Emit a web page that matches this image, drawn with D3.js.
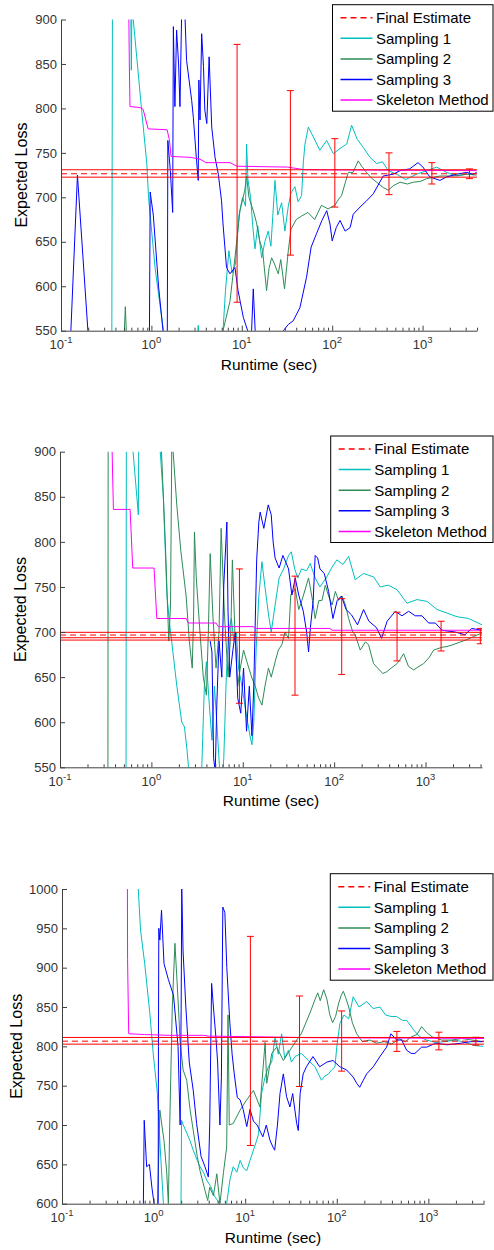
<!DOCTYPE html>
<html><head><meta charset="utf-8">
<script src="https://cdn.jsdelivr.net/npm/d3@7"></script>
<style>body{margin:0;background:#fff}svg{display:block}</style>
</head><body>
<svg id="c" width="494" height="1250"></svg>
<script>
// ---------------- DATA ----------------
const legendLabels = ["Final Estimate","Sampling 1","Sampling 2","Sampling 3","Skeleton Method"];
const xTickExponents = [-1,0,1,2,3];
const p1YTicks = [550,600,650,700,750,800,850,900];
const p2YTicks = [550,600,650,700,750,800,850,900];
const p3YTicks = [600,650,700,750,800,850,900,950,1000];

// Panel 1  [runtime (sec), expected loss]
const p1Skeleton = [[0.55,1000],[0.57,850],[0.58,802],[0.75,801],[0.81,799],[0.92,777],[1.49,776],[1.58,765],[1.65,746],[2.67,745],[3.45,743],[4.0,739],[7.4,739],[8.85,735],[32,734],[50,731],[3960,730]];
const p1Sampling1 = [[0.30,450],[0.365,540],[0.372,1000],[0.58,1000],[0.60,843],[0.62,1000],[0.63,900],[0.78,798],[0.89,738],[0.93,700],[1.1,620],[1.36,550],[1.5,480],[3.1,480],[3.2,540],[3.3,556],[3.4,540],[3.6,480],[5.8,480],[6.2,550],[6.6,595],[7.2,640],[7.8,615],[8.5,625],[9.3,680],[10.2,700],[11.0,690],[11.3,760],[11.7,720],[12.5,700],[13.3,665],[14.0,642],[15.0,668],[16.6,632],[18.0,650],[19.6,662],[21.0,645],[23.3,719],[25.0,680],[27.6,694],[30.0,662],[32.7,690],[35.0,705],[38.7,712],[42.0,695],[45.9,702],[48.0,740],[50.0,760],[54.5,779],[61.8,768],[73,753],[87,764],[103,749],[122,755],[145,760],[164,781],[190,765],[221,756],[262,745],[310,738],[360,740],[418,730],[517,726],[650,720],[860,726],[1110,730],[1432,734],[1848,728],[2384,724],[3077,726],[3960,727]];
const p1Sampling2 = [[0.45,480],[0.50,545],[0.515,577],[0.53,545],[0.6,480],[5.8,480],[6.2,550],[7.4,583],[8.4,632],[9.55,685],[10.8,708],[11.3,724],[12.0,700],[13.4,685],[14.5,672],[15.8,651],[17.0,640],[18.8,595],[20.0,620],[21.4,632],[23.0,625],[25.3,614],[27.0,630],[29.7,597],[32.7,640],[35,664],[40,675],[46,679],[54,683],[64,675],[76,691],[90,687],[107,691],[118,698],[127,702],[140,717],[151,728],[170,728],[194,741],[212,735],[240,728],[270,722],[310,717],[367,711],[418,708],[474,713],[562,717],[680,715],[789,717],[950,718],[1110,721],[1557,724],[2188,724],[3077,726],[3960,725]];
const p1Sampling3 = [[0.11,450],[0.128,545],[0.152,725],[0.20,545],[0.25,450],[0.94,450],[0.97,706],[1.05,680],[1.2,600],[1.36,545],[1.45,450],[1.50,545],[1.52,764],[1.62,730],[1.72,683],[1.75,892],[1.82,802],[1.9,888],[2.0,850],[2.07,802],[2.16,905],[2.35,905],[2.45,854],[2.79,809],[2.91,790],[3.16,741],[3.3,719],[3.35,832],[3.45,787],[3.6,884],[3.77,847],[3.9,798],[4.1,783],[4.35,858],[4.65,779],[5.06,745],[5.5,726],[5.97,696],[6.2,670],[6.78,621],[7.4,614],[8.4,621],[9.1,595],[10.4,565],[11.8,548],[12.5,520],[13.4,597],[14.5,520],[15.5,480],[27,480],[28.8,550],[32.7,557],[37,561],[44,576],[52,610],[58.5,644],[67,659],[77,674],[87,685],[94.6,670],[100,651],[111,666],[122,674],[139,662],[158,666],[171,681],[203,689],[240,696],[285,704],[367,724],[474,726],[562,730],[720,732],[890,739],[1010,734],[1200,723],[1557,719],[1848,723],[2384,726],[3077,728],[3640,726],[3960,728]];
const p1Estimate = 726.5;
const p1Bounds = [731, 722.7];
const p1ErrRuntime = [8.87, 34.5, 107, 425, 1268, 3300];
const p1ErrLow = [582, 635, 689, 703, 715, 721];
const p1ErrHigh = [872, 820, 766, 750, 739, 732];

// Panel 2
const p2Skeleton = [[0.366,1000],[0.372,900],[0.384,836],[0.585,836],[0.625,771],[1.07,771],[1.146,715],[2.4,715],[2.55,710],[5.1,710],[5.4,706],[13,706],[13.7,704],[90,704],[95,702],[4100,702]];
const p2Sampling1 = [[0.30,400],[0.527,450],[0.533,1000],[0.60,1000],[0.63,900],[0.72,830],[0.735,1000],[1.2,1000],[1.25,900],[1.35,850],[1.48,740],[1.6,705],[1.9,640],[2.15,600],[2.3,595],[2.45,570],[2.6,540],[3.4,520],[3.56,550],[3.8,640],[4.0,667],[4.3,620],[4.6,580],[4.9,640],[5.2,600],[5.6,545],[5.9,530],[6.2,560],[6.6,650],[7.0,700],[7.5,715],[8.0,690],[8.5,700],[9.0,660],[9.8,640],[10.5,620],[11.3,600],[12.0,585],[12.6,575],[13.2,600],[14.0,680],[15.0,740],[16.2,778],[17.5,750],[19.1,720],[20.5,700],[22.6,730],[25,760],[28,770],[31.7,785],[34,789],[37,770],[40,760],[44,770],[50,768],[54.7,776],[62,760],[70,750],[83,761],[95,772],[107,780],[125,775],[144,784],[170,758],[210,765],[271,761],[320,750],[390,752],[488,747],[627,732],[807,736],[1038,734],[1336,725],[1719,721],[2213,717],[2964,715],[4148,708]];
const p2Sampling2 = [[0.32,400],[0.334,450],[0.337,1000],[1.27,1000],[1.29,900],[1.42,800],[1.55,690],[1.62,730],[1.70,1000],[1.73,900],[1.9,840],[2.1,790],[2.4,740],[2.6,690],[2.8,660],[2.9,720],[2.96,811],[3.1,760],[3.4,700],[3.7,650],[4.0,630],[4.2,700],[4.4,787],[4.7,720],[5.1,660],[5.5,700],[5.8,815],[6.3,720],[6.9,650],[7.4,700],[7.7,780],[8.2,700],[8.8,640],[9.4,660],[10.2,680],[11.1,667],[12.6,649],[13.7,640],[14.9,627],[16.2,619],[17.5,640],[19.1,660],[20.5,650],[22.6,667],[24.5,680],[26.8,686],[29,700],[31.7,693],[33.5,741],[37.5,748],[41,725],[44.4,735],[52.5,760],[58,735],[62,715],[68,735],[73.5,735],[80,752],[87,740],[95,730],[103,745],[112,735],[122,740],[133,730],[144,715],[160,700],[170,697],[193,680],[220,689],[238,686],[270,665],[300,660],[340,654],[378,656],[420,660],[488,665],[530,670],[576,676],[650,662],[741,658],[850,662],[953,665],[1100,672],[1227,680],[1500,683],[1719,684],[2000,686],[2404,689],[2900,692],[3364,695],[4160,699]];
const p2Sampling3 = [[4.4,690],[4.6,678],[4.8,560],[5.0,545],[5.2,620],[5.5,690],[5.9,650],[6.2,752],[6.7,822],[6.9,723],[7.2,650],[7.8,680],[8.3,700],[8.8,627],[9.5,610],[10.2,660],[11.0,590],[11.8,640],[12.6,585],[13.2,640],[14.2,780],[15.0,822],[15.5,833],[17,815],[19,841],[20.5,830],[21.5,800],[22.6,782],[25,771],[27.5,785],[31.7,770],[34.5,741],[37.5,760],[41,741],[46,723],[50,700],[52.5,678],[55,705],[59,735],[62,785],[66,782],[70,770],[78,765],[87,745],[97,715],[108,735],[120,740],[135,725],[155,719],[180,708],[210,725],[240,712],[290,705],[330,693],[380,712],[467,723],[552,718],[653,723],[773,718],[914,718],[1081,710],[1279,710],[1513,702],[2118,700],[2700,697],[3200,704],[4148,702]];
const p2Estimate = 696.7;
const p2Bounds = [699.7, 693.7, 691.1];
const p2ErrRuntime = [9.2, 37.3, 121, 488, 1480, 3980];
const p2ErrLow = [621, 630, 653, 668, 679, 687];
const p2ErrHigh = [770, 762, 737, 722, 712, 704];

// Panel 3
const p3Skeleton = [[0.515,1100],[0.52,910],[0.535,816],[0.8,815],[1.5,814],[3.5,814],[4.0,813],[17,812],[50,811],[4050,810]];
const p3Sampling1 = [[0.6,1100],[0.68,1000],[0.72,948],[0.80,905],[0.91,842],[0.99,791],[1.1,740],[1.18,672],[1.28,600],[1.35,550],[1.98,550],[2.02,706],[2.11,700],[2.3,690],[2.5,680],[2.71,668],[3.0,655],[3.21,647],[3.5,640],[3.8,630],[4.2,622],[4.6,610],[5.3,600],[5.7,560],[6.1,560],[6.28,600],[6.8,630],[7.4,647],[8.1,640],[8.8,655],[9.6,645],[10.4,642],[11.3,655],[12.3,668],[13.4,681],[14,689],[15.1,740],[16.4,760],[17.9,774],[19.5,780],[21.2,812],[23,790],[25,816],[27,785],[29.6,795],[32,780],[35,787],[41,791],[49,782],[58,774],[63,765],[68,757],[74,762],[81,765],[88,770],[95.5,774],[100,799],[108,829],[120,840],[135,835],[151,863],[175,850],[212,857],[250,848],[296,850],[340,840],[390,838],[451,838],[520,833],[580,833],[700,820],[810,812],[957,808],[1200,805],[1500,806],[2000,808],[2500,805],[3227,801],[3985,800]];
const p3Sampling2 = [[1.0,500],[1.10,590],[1.17,719],[1.3,680],[1.39,640],[1.45,600],[1.5,700],[1.6,850],[1.71,931],[1.8,884],[1.9,833],[1.94,808],[2.1,770],[2.3,757],[2.5,720],[2.71,693],[3.0,660],[3.21,642],[3.64,617],[3.9,604],[4.1,621],[4.5,610],[4.9,638],[5.3,600],[5.8,640],[6.28,672],[6.5,840],[6.7,700],[7.4,702],[8.8,719],[10.4,732],[12.3,744],[14.5,723],[16.5,805],[17.2,753],[19.5,791],[22.1,799],[26.1,782],[30.8,795],[36.5,808],[41,816],[46,830],[52,845],[58,860],[62,868],[66,858],[72,872],[78,860],[84,840],[90,830],[97,838],[105,855],[112,865],[118,870],[125,862],[135,850],[148,830],[165,816],[190,806],[230,808],[270,804],[330,806],[400,803],[480,810],[560,806],[650,812],[750,815],[844,825],[950,818],[1100,812],[1400,808],[1800,808],[2300,810],[3000,808],[3985,806]];
const p3Sampling3 = [[0.70,500],[0.772,590],[0.79,706],[0.84,647],[0.9,650],[0.96,620],[1.04,590],[1.08,560],[1.12,570],[1.13,800],[1.14,950],[1.17,935],[1.22,973],[1.3,905],[1.45,885],[1.65,865],[1.85,800],[1.95,700],[2.0,850],[2.03,1000],[2.1,920],[2.25,850],[2.45,780],[2.71,744],[2.95,702],[3.3,660],[3.64,647],[3.96,634],[4.1,700],[4.3,880],[4.5,850],[4.8,810],[5.0,780],[5.3,700],[5.5,760],[5.7,977],[6.0,970],[6.3,900],[6.8,830],[7.2,790],[7.6,765],[8.2,735],[8.8,732],[9.5,720],[10.4,698],[11.3,720],[12.3,705],[13.5,700],[15.6,685],[17,700],[18.6,681],[20.1,672],[21,668],[22.5,700],[24,740],[26.1,765],[28.3,736],[30.8,723],[33,740],[36.5,702],[38,693],[39.8,740],[43,765],[46.6,774],[55,787],[65,774],[78,780],[91,782],[108,774],[128,770],[151,761],[165,753],[178,748],[195,757],[212,765],[250,774],[296,787],[350,799],[390,816],[451,808],[511,808],[580,795],[650,791],[714,791],[844,799],[957,799],[1200,804],[1600,802],[2300,804],[2900,806],[3985,806]];
const p3Estimate = 806.6;
const p3Bounds = [811.3, 802.8];
const p3ErrRuntime = [11.4, 39.2, 113, 453, 1303, 3300];
const p3ErrLow = [674, 749, 768.5, 793.6, 795.5, 801.5];
const p3ErrHigh = [939.8, 864, 845, 819, 818, 811.5];

// ---------------- LAYOUT / STYLE ----------------
const FONT = "'Liberation Sans', Arial, Helvetica, sans-serif";
const seriesColors = ["#00bfbf", "#2e8b57", "#0000ff", "#ff00ff"];
const estColor = "#ff0000";
const axisColor = "#404040";

const layouts = [
  {left:61, right:477, top:19.5, bottom:330.7, xmax:4000, yDomain:[550,900], legend:{x:332.5, y:4.7}, ylabelX:26.5},
  {left:60, right:482, top:451.7, bottom:767.3, xmax:4150, yDomain:[550,900], legend:{x:330.7, y:436}, ylabelX:25.5},
  {left:62, right:484, top:889, bottom:1203.7, xmax:4050, yDomain:[600,1000], legend:{x:330.3, y:873.7}, ylabelX:22}
];

const panels = [
  {series:[p1Sampling1,p1Sampling2,p1Sampling3,p1Skeleton], est:p1Estimate, bounds:p1Bounds, errX:p1ErrRuntime, errLo:p1ErrLow, errHi:p1ErrHigh, yTicks:p1YTicks},
  {series:[p2Sampling1,p2Sampling2,p2Sampling3,p2Skeleton], est:p2Estimate, bounds:p2Bounds, errX:p2ErrRuntime, errLo:p2ErrLow, errHi:p2ErrHigh, yTicks:p2YTicks},
  {series:[p3Sampling1,p3Sampling2,p3Sampling3,p3Skeleton], est:p3Estimate, bounds:p3Bounds, errX:p3ErrRuntime, errLo:p3ErrLow, errHi:p3ErrHigh, yTicks:p3YTicks}
];

const svg = d3.select("#c");
svg.append("rect").attr("width",494).attr("height",1250).attr("fill","#fff");

panels.forEach((p, i) => {
  const L = layouts[i];
  const x = d3.scaleLog().domain([0.1, L.xmax]).range([L.left, L.right]);
  const y = d3.scaleLinear().domain(L.yDomain).range([L.bottom, L.top]);
  const g = svg.append("g");
  const clipId = "clip" + i;
  svg.append("clipPath").attr("id", clipId).append("rect")
    .attr("x", L.left).attr("y", L.top).attr("width", L.right - L.left).attr("height", L.bottom - L.top);
  const plot = g.append("g").attr("clip-path", `url(#${clipId})`);

  const line = d3.line().x(d => x(d[0])).y(d => y(d[1]));
  p.series.forEach((s, k) => {
    plot.append("path").datum(s).attr("d", line)
      .attr("fill", "none").attr("stroke", seriesColors[k]).attr("stroke-width", 1)
      .attr("stroke-linejoin", "round");
  });

  // final estimate and bounds
  plot.append("line").attr("x1", L.left).attr("x2", L.right)
    .attr("y1", y(p.est)).attr("y2", y(p.est))
    .attr("stroke", estColor).attr("stroke-width", 1).attr("stroke-dasharray", "6,4");
  p.bounds.forEach(b => {
    plot.append("line").attr("x1", L.left).attr("x2", L.right)
      .attr("y1", y(b)).attr("y2", y(b))
      .attr("stroke", estColor).attr("stroke-width", 1);
  });

  // error bars
  p.errX.forEach((t, k) => {
    const xx = x(t), y0 = y(p.errLo[k]), y1 = y(p.errHi[k]);
    const eb = plot.append("g").attr("stroke", estColor).attr("stroke-width", 1);
    eb.append("line").attr("x1", xx).attr("x2", xx).attr("y1", y0).attr("y2", y1);
    eb.append("line").attr("x1", xx - 3.5).attr("x2", xx + 3.5).attr("y1", y0).attr("y2", y0);
    eb.append("line").attr("x1", xx - 3.5).attr("x2", xx + 3.5).attr("y1", y1).attr("y2", y1);
  });

  // y axis
  const yAxis = d3.axisLeft(y).tickValues(p.yTicks).tickSize(-5).tickSizeOuter(0)
    .tickPadding(4).tickFormat(d3.format("d"));
  const ya = g.append("g").attr("transform", `translate(${L.left},0)`).call(yAxis);
  ya.select(".domain").attr("stroke", axisColor);
  ya.selectAll(".tick line").attr("stroke", axisColor);
  ya.selectAll(".tick text").attr("font-family", FONT).attr("font-size", 13).attr("fill", "#333");

  // x axis majors + minors
  const majors = xTickExponents.map(e => Math.pow(10, e));
  const minors = [];
  xTickExponents.forEach(e => { for (let m = 2; m <= 9; m++) { const v = m * Math.pow(10, e); if (v <= L.xmax) minors.push(v); } });
  const xa = g.append("g").attr("transform", `translate(0,${L.bottom})`)
    .call(d3.axisBottom(x).tickValues(majors).tickSize(-5).tickSizeOuter(0).tickFormat(() => ""));
  xa.select(".domain").attr("stroke", axisColor);
  xa.selectAll(".tick line").attr("stroke", axisColor);
  const xm = g.append("g").attr("transform", `translate(0,${L.bottom})`)
    .call(d3.axisBottom(x).tickValues(minors).tickSize(-3).tickSizeOuter(0).tickFormat(() => ""));
  xm.select(".domain").remove();
  xm.selectAll(".tick line").attr("stroke", axisColor);
  xTickExponents.forEach((e, k) => {
    const t = g.append("text").attr("x", x(majors[k])).attr("y", L.bottom + 18.5)
      .attr("text-anchor", "middle").attr("font-family", FONT).attr("font-size", 13).attr("fill", "#333");
    t.append("tspan").text("10");
    t.append("tspan").attr("dy", -6).attr("font-size", 9.5).text(String(e));
  });

  // axis labels
  g.append("text").attr("x", (L.left + L.right) / 2).attr("y", L.bottom + 38.8)
    .attr("text-anchor", "middle").attr("font-family", FONT).attr("font-size", 15.5).attr("fill", "#000")
    .text("Runtime (sec)");
  g.append("text").attr("transform", `translate(${L.ylabelX},${(L.top + L.bottom) / 2}) rotate(-90)`)
    .attr("text-anchor", "middle").attr("font-family", FONT).attr("font-size", 16).attr("fill", "#000")
    .text("Expected Loss");

  // legend
  const lg = g.append("g").attr("transform", `translate(${L.legend.x},${L.legend.y})`);
  lg.append("rect").attr("x", 0).attr("y", 0).attr("width", 493 - L.legend.x).attr("height", 106.5)
    .attr("fill", "#fff").attr("stroke", "#000").attr("stroke-width", 1);
  const legColors = [estColor].concat(seriesColors);
  legendLabels.forEach((lab, k) => {
    const ry = 13 + k * 20.6;
    const ln = lg.append("line").attr("x1", 8).attr("x2", 40).attr("y1", ry).attr("y2", ry)
      .attr("stroke", legColors[k]).attr("stroke-width", 1.5);
    if (k === 0) ln.attr("stroke-dasharray", "6,4");
    lg.append("text").attr("x", 43.5).attr("y", ry + 5.3)
      .attr("font-family", FONT).attr("font-size", 15).attr("fill", "#000").text(lab);
  });
});
</script>
</body></html>
